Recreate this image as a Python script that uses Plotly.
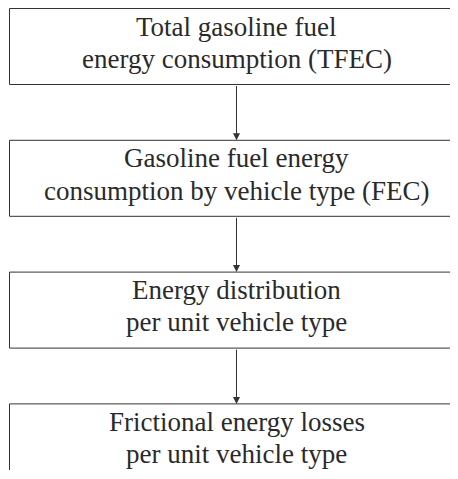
import plotly.graph_objects as go

# flowchart steps, top to bottom (one list per text line)
line_1 = [
    "Total gasoline fuel",
    "Gasoline fuel energy",
    "Energy distribution",
    "Frictional energy losses",
]
line_2 = [
    "energy consumption (TFEC)",
    "consumption by vehicle type (FEC)",
    "per unit vehicle type",
    "per unit vehicle type",
]

# figure sized so it fits the window with the page's 8px body margin
W, H = 450, 462
LINE = "#333333"
FONT = {"family": "Liberation Serif, DejaVu Serif, serif", "size": 27, "color": "#2a2a2a"}

# layout constants (pixels, y grows downward)
box_left, box_right = 1.5, 520
box_h = 76
top0, step = 0.5, 131.8
cx = 228.5

fig = go.Figure()

for i in range(len(line_1)):
    top = top0 + i * step
    bottom = top + box_h
    fig.add_shape(
        type="rect", xref="x", yref="y",
        x0=box_left, x1=box_right, y0=top, y1=bottom,
        line={"color": LINE, "width": 1}, fillcolor="white", layer="below",
    )
    for txt, dy in ((line_1[i], 18), (line_2[i], 50.3)):
        fig.add_annotation(
            x=cx, y=top + dy, xref="x", yref="y",
            text=txt, showarrow=False, font=FONT,
            xanchor="center", yanchor="middle",
        )
    if i < len(line_1) - 1:
        next_top = top0 + (i + 1) * step
        fig.add_annotation(
            x=cx, y=next_top, ax=cx, ay=bottom,
            xref="x", yref="y", axref="x", ayref="y",
            text="", showarrow=True, arrowhead=2, arrowsize=1.4,
            arrowwidth=1, arrowcolor=LINE, standoff=0, startstandoff=0,
        )

fig.update_layout(
    width=W, height=H,
    margin={"l": 0, "r": 0, "t": 0, "b": 0, "pad": 0},
    plot_bgcolor="white", paper_bgcolor="white",
    xaxis={"range": [0, W], "visible": False, "fixedrange": True},
    yaxis={"range": [H, 0], "visible": False, "fixedrange": True},
    showlegend=False,
)

fig.write_html("out.html")
